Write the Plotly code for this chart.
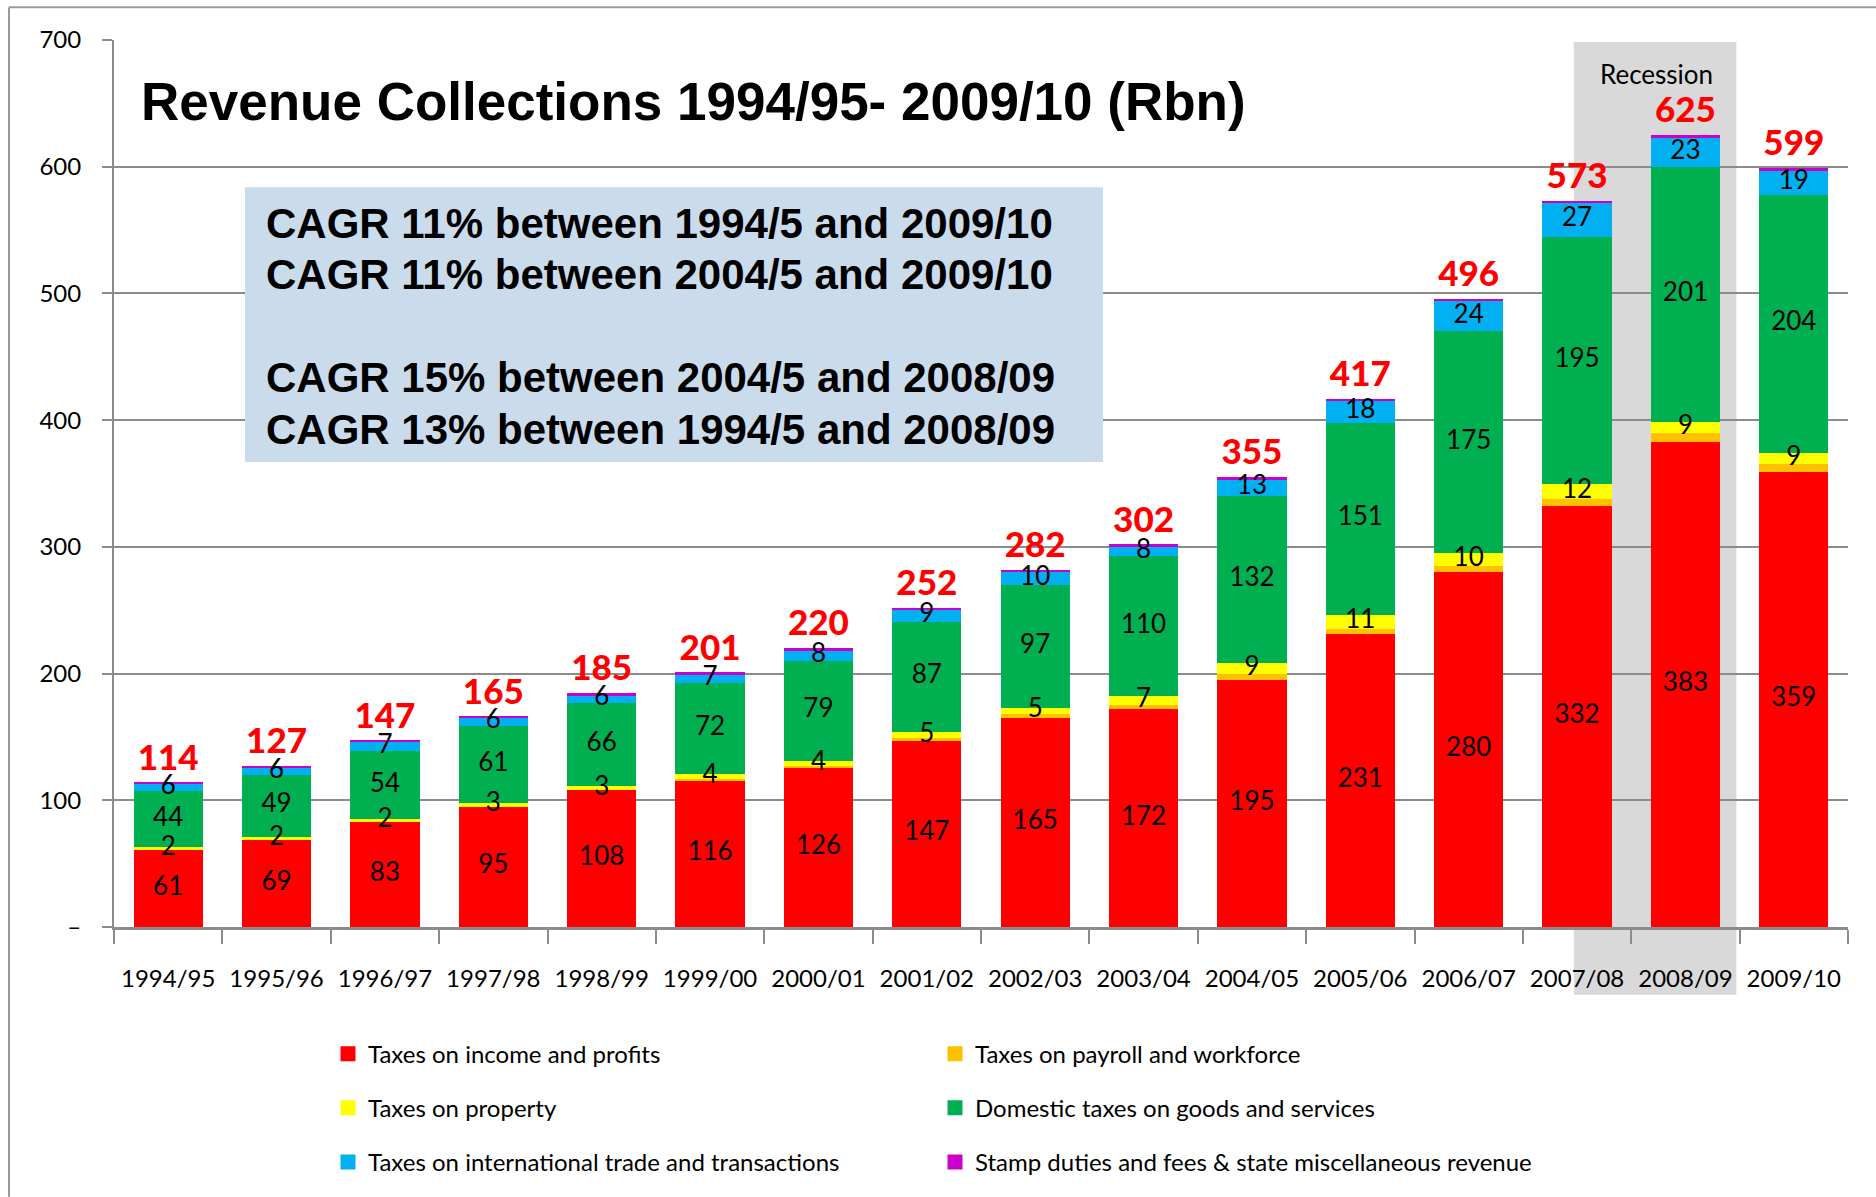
import plotly.graph_objects as go

years = ["1994/95", "1995/96", "1996/97", "1997/98", "1998/99", "1999/00", "2000/01", "2001/02",
         "2002/03", "2003/04", "2004/05", "2005/06", "2006/07", "2007/08", "2008/09", "2009/10"]

income = [61, 69, 83, 95, 108, 116, 126, 147, 165, 172, 195, 231, 280, 332, 383, 359]
payroll = [0, 0, 0, 0, 0, 0.5, 1, 2, 3, 3.5, 4.5, 4.5, 5, 5.5, 6.5, 6]
property_tax = [2, 2, 2, 3, 3, 4, 4, 5, 5, 7, 9, 11, 10, 12, 9, 9]
domestic = [44, 49, 54, 61, 66, 72, 79, 87, 97, 110, 132, 151, 175, 195, 201, 204]
international = [6, 6, 7, 6, 6, 7, 8, 9, 10, 8, 13, 18, 24, 27, 23, 19]
stamp = [1, 1, 1, 1, 1.5, 1.5, 2, 2, 2, 1.5, 1.5, 1.5, 2, 1.5, 2.5, 2]
totals = [114, 127, 147, 165, 185, 201, 220, 252, 282, 302, 355, 417, 496, 573, 625, 599]

series_names = ["Taxes on income and profits", "Taxes on payroll and workforce", "Taxes on property",
                "Domestic taxes on goods and services", "Taxes on international trade and transactions",
                "Stamp duties and fees & state miscellaneous revenue"]
colors = ["#FF0000", "#FFC000", "#FFFF00", "#00B050", "#00B0F0", "#CC00CC"]

cagr_lines = ["CAGR 11% between 1994/5 and 2009/10", "CAGR 11% between 2004/5 and 2009/10",
              "CAGR 15% between 2004/5 and 2008/09", "CAGR 13% between 1994/5 and 2008/09"]

# figure geometry (px)
W, H = 1876, 1197
ML, MR, MT, MB = 114, 28, 40, 266
PW, PH = W - ML - MR, H - MT - MB


def px_x(px):
    return (px - ML) / PW


def px_y(py):
    return (H - MB - py) / PH


LABEL_FONT = "Lato, 'Open Sans', sans-serif"
GRID = "#8C8C8C"

fig = go.Figure()

series = [income, payroll, property_tax, domestic, international, stamp]
for name, vals, c in zip(series_names, series, colors):
    fig.add_trace(go.Bar(x=years, y=vals, name=name, marker_color=c, marker_line_width=0,
                         showlegend=False, hoverinfo="y+name"))

# legend entries (two columns of three)
legend_ids = ["legend", "legend2", "legend", "legend2", "legend", "legend2"]
for name, c, lg in zip(series_names, colors, legend_ids):
    fig.add_trace(go.Scatter(x=[None], y=[None], mode="markers", name=name, legend=lg, legendgroup=name,
                             marker=dict(symbol="square", size=15, color=c)))

# segment labels at centre of each segment
base = [0] * len(years)
labelled = {0, 2, 3, 4}
for i, vals in enumerate(series):
    if i in labelled:
        fig.add_trace(go.Scatter(
            x=years, y=[b + v / 2 for b, v in zip(base, vals)], text=[str(v) for v in vals],
            mode="text", textposition="middle center", showlegend=False, hoverinfo="skip",
            textfont=dict(family=LABEL_FONT, size=26, color="black"), cliponaxis=False,
        ))
    base = [b + v for b, v in zip(base, vals)]

# totals above the bars
fig.add_trace(go.Scatter(
    x=years, y=[b + 17 for b in base], text=[str(t) for t in totals],
    mode="text", textposition="middle center", showlegend=False, hoverinfo="skip",
    textfont=dict(family=LABEL_FONT, size=35, color="#FF0000", weight=900),
    cliponaxis=False,
))

shapes = [
    # recession shading
    dict(type="rect", xref="x", yref="paper", x0=12.97, x1=14.47, y0=px_y(999), y1=px_y(42),
         fillcolor="#D9D9D9", line_width=0, layer="below"),
    # CAGR box
    dict(type="rect", xref="paper", yref="paper", x0=px_x(245), x1=px_x(1103), y0=px_y(464), y1=px_y(188),
         fillcolor="#CADCEC", line_width=0, layer="above"),
    # slide frame
    dict(type="line", xref="paper", yref="paper", x0=px_x(9), x1=px_x(W + 5), y0=px_y(7), y1=px_y(7),
         line=dict(color="#9A9A9A", width=2)),
    dict(type="line", xref="paper", yref="paper", x0=px_x(9), x1=px_x(9), y0=px_y(7), y1=px_y(H + 5),
         line=dict(color="#9A9A9A", width=2)),
]

annotations = [
    dict(text="Revenue Collections 1994/95- 2009/10 (Rbn)", xref="paper", yref="paper",
         x=px_x(139), y=px_y(102), xanchor="left", yanchor="middle", showarrow=False,
         font=dict(family="Liberation Sans, Arial, sans-serif", size=53, color="black", weight="bold")),
    dict(text="Recession", xref="paper", yref="paper", x=px_x(1656), y=px_y(74),
         xanchor="center", yanchor="middle", showarrow=False,
         font=dict(family=LABEL_FONT, size=26, color="black")),
]
for line, py in zip(cagr_lines, [224, 276, 379, 431]):
    annotations.append(dict(
        text=line, xref="paper", yref="paper", x=px_x(264), y=px_y(py), xanchor="left", yanchor="middle",
        showarrow=False, font=dict(family="Liberation Sans, Arial, sans-serif", size=42, color="black",
                                   weight="bold")))

legend_style = dict(
    orientation="v", traceorder="grouped", tracegroupgap=20, yanchor="top", xanchor="left",
    font=dict(family=LABEL_FONT, size=24, color="black"), bgcolor="rgba(0,0,0,0)",
)

fig.update_layout(
    width=W, height=H, barmode="stack", bargap=0.36,
    margin=dict(l=ML, r=MR, t=MT, b=MB, pad=0),
    plot_bgcolor="white", paper_bgcolor="white",
    shapes=shapes, annotations=annotations,
    legend=dict(x=px_x(328), y=px_y(1036), **legend_style),
    legend2=dict(x=px_x(935), y=px_y(1036), **legend_style),
    xaxis=dict(
        range=[-0.5, len(years) - 0.5],
        showline=True, linecolor=GRID, linewidth=3, ticks="outside", tickson="boundaries",
        ticklen=14, tickwidth=2, tickcolor=GRID, ticklabelstandoff=28,
        tickfont=dict(family=LABEL_FONT, size=24, color="black"),
    ),
    yaxis=dict(
        range=[0, 700], tickvals=[0, 100, 200, 300, 400, 500, 600, 700],
        ticktext=["–", "100", "200", "300", "400", "500", "600", "700"],
        showgrid=True, gridcolor=GRID, gridwidth=2, zeroline=False,
        showline=True, linecolor=GRID, linewidth=2, ticks="outside", ticklen=10, tickwidth=2,
        tickcolor=GRID, ticklabelstandoff=16,
        tickfont=dict(family=LABEL_FONT, size=24, color="black"),
    ),
)

fig.write_html("out.html", config={"displayModeBar": False},
               post_script="document.body.style.margin = '0';")
